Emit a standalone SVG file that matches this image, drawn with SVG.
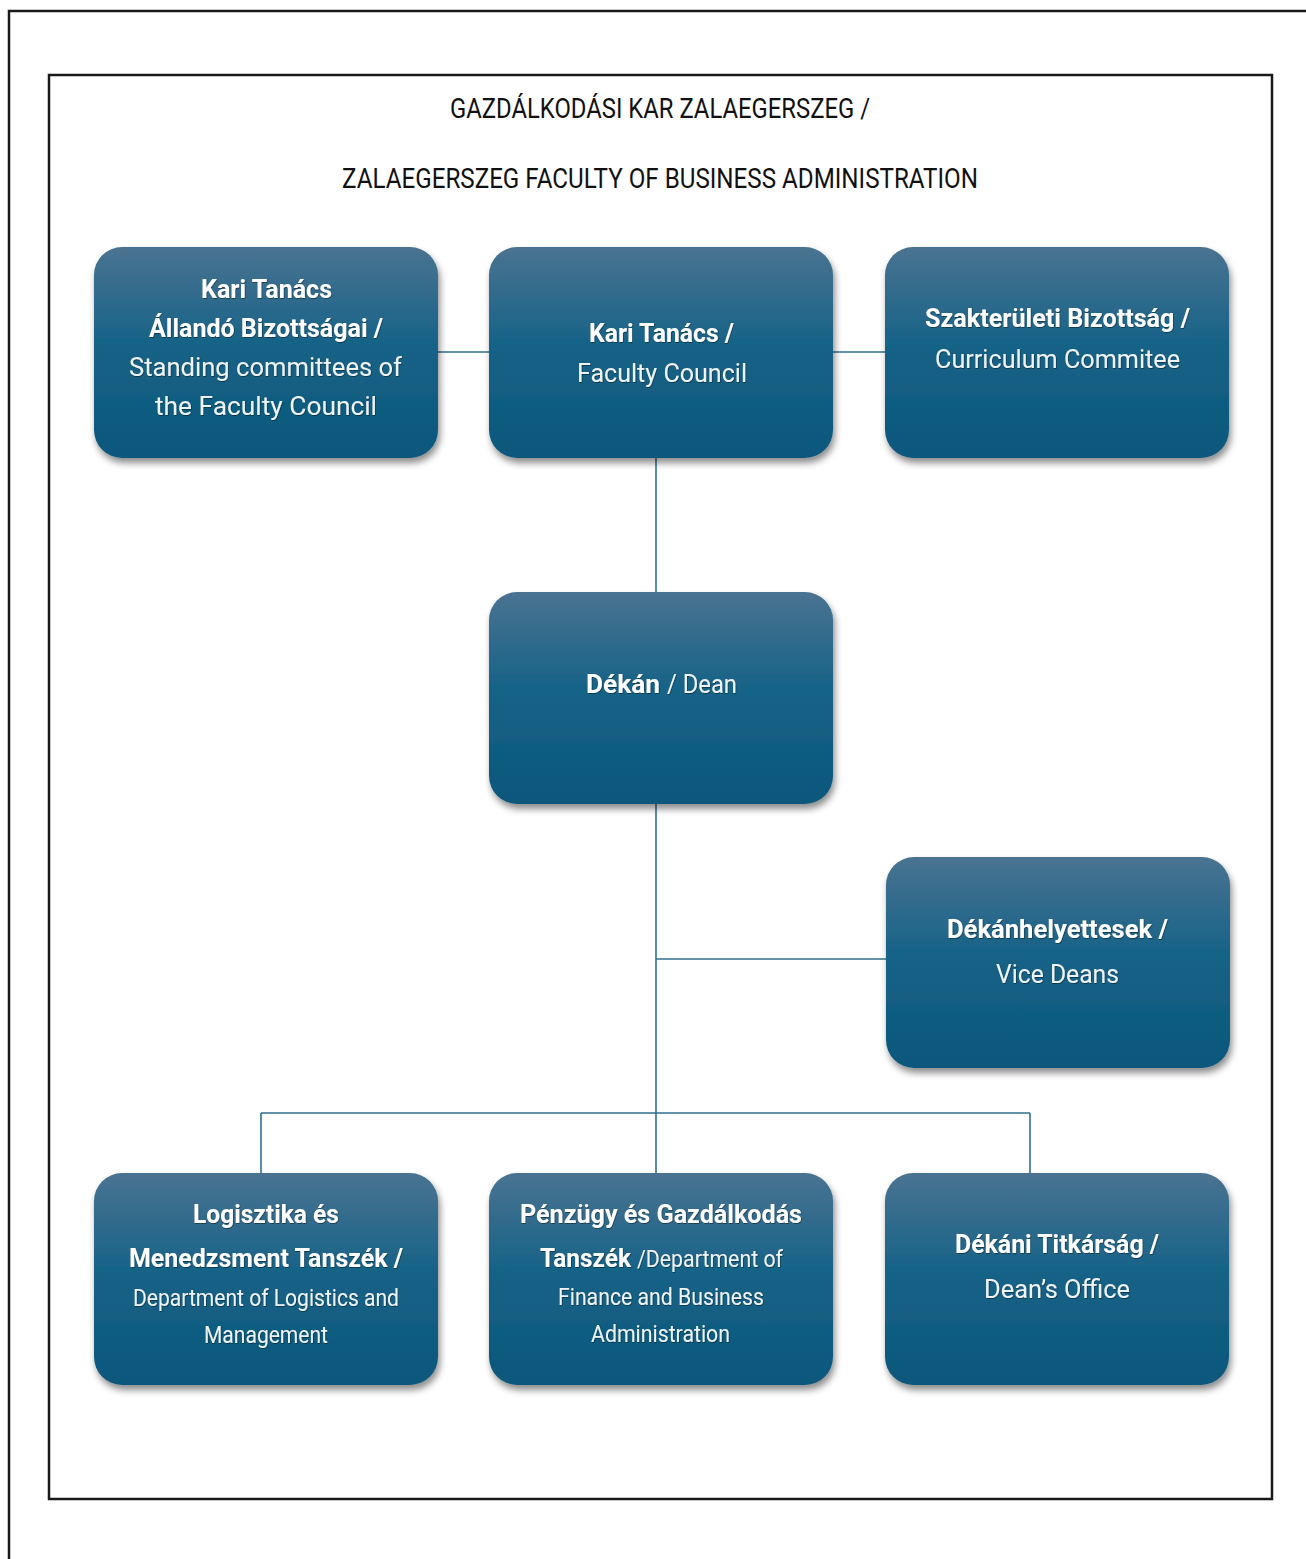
<svg xmlns="http://www.w3.org/2000/svg" width="1306" height="1559" viewBox="0 0 1306 1559">
<defs>
<linearGradient id="g" x1="0" y1="0" x2="0" y2="1">
<stop offset="0" stop-color="#4a7391"/>
<stop offset="0.45" stop-color="#186388"/>
<stop offset="1" stop-color="#0a577b"/>
</linearGradient>
<filter id="sh" x="-10%" y="-10%" width="125%" height="130%">
<feDropShadow dx="2" dy="5" stdDeviation="3.5" flood-color="#000" flood-opacity="0.45"/>
</filter>
<filter id="ts" x="-5%" y="-20%" width="110%" height="150%">
<feDropShadow dx="0.6" dy="0.8" stdDeviation="0.6" flood-color="#000" flood-opacity="0.5"/>
</filter>
</defs>
<style>
.frame{fill:none;stroke:#1a1a1a;stroke-width:2.5}
.box{fill:url(#g);filter:url(#sh)}
.title{font-family:Roboto,"Liberation Sans",sans-serif;font-size:27px;fill:#111}
.t{font-family:Roboto,"Liberation Sans",sans-serif;fill:#fff;filter:url(#ts)}
.b{font-weight:bold;font-size:26px}
.r{font-weight:normal;font-size:26px;fill:#eef3f6}
.s{font-weight:normal;font-size:23px;fill:#eef3f6}
.conn line{stroke:#2f7191;stroke-width:1.6}
</style>
<rect width="1306" height="1559" fill="#fff"/>
<rect class="frame" x="9" y="11" width="1400" height="1600"/>
<rect class="frame" x="49" y="75" width="1223" height="1424"/>
<g id="title">
<text class="title" x="450" y="118" textLength="420" lengthAdjust="spacingAndGlyphs">GAZDÁLKODÁSI KAR ZALAEGERSZEG /</text>
<text class="title" x="342" y="188" textLength="636" lengthAdjust="spacingAndGlyphs">ZALAEGERSZEG FACULTY OF BUSINESS ADMINISTRATION</text>
</g>
<g class="conn" id="connectors">
<line x1="438" y1="352" x2="489" y2="352"/>
<line x1="833" y1="352" x2="885" y2="352"/>
<line x1="656" y1="458" x2="656" y2="592"/>
<line x1="656" y1="804" x2="656" y2="1173"/>
<line x1="656" y1="959" x2="886" y2="959"/>
<line x1="261" y1="1113" x2="1030" y2="1113"/>
<line x1="261" y1="1113" x2="261" y2="1173"/>
<line x1="1030" y1="1113" x2="1030" y2="1173"/>
</g>
<g id="node-standing">
<rect class="box" x="94" y="247" width="344" height="211" rx="28"/>
<text class="t b" x="201" y="298" textLength="131" lengthAdjust="spacingAndGlyphs">Kari Tanács</text>
<text class="t b" x="149" y="337" textLength="234" lengthAdjust="spacingAndGlyphs">Állandó Bizottságai /</text>
<text class="t r" x="129" y="376" textLength="273" lengthAdjust="spacingAndGlyphs">Standing committees of</text>
<text class="t r" x="155" y="415" textLength="222" lengthAdjust="spacingAndGlyphs">the Faculty Council</text>
</g>
<g id="node-council">
<rect class="box" x="489" y="247" width="344" height="211" rx="28"/>
<text class="t b" x="589" y="342" textLength="145" lengthAdjust="spacingAndGlyphs">Kari Tanács /</text>
<text class="t r" x="577" y="382" textLength="170" lengthAdjust="spacingAndGlyphs">Faculty Council</text>
</g>
<g id="node-curriculum">
<rect class="box" x="885" y="247" width="344" height="211" rx="28"/>
<text class="t b" x="925" y="327" textLength="265" lengthAdjust="spacingAndGlyphs">Szakterületi Bizottság /</text>
<text class="t r" x="935" y="368" textLength="245" lengthAdjust="spacingAndGlyphs">Curriculum Commitee</text>
</g>
<g id="node-dean">
<rect class="box" x="489" y="592" width="344" height="212" rx="28"/>
<text class="t b" x="586" y="693" textLength="74" lengthAdjust="spacingAndGlyphs">Dékán</text>
<text class="t r" x="667" y="693" textLength="70" lengthAdjust="spacingAndGlyphs">/ Dean</text>
</g>
<g id="node-vicedeans">
<rect class="box" x="886" y="857" width="344" height="211" rx="28"/>
<text class="t b" x="947" y="938" textLength="221" lengthAdjust="spacingAndGlyphs">Dékánhelyettesek /</text>
<text class="t r" x="996" y="983" textLength="123" lengthAdjust="spacingAndGlyphs">Vice Deans</text>
</g>
<g id="node-logistics">
<rect class="box" x="94" y="1173" width="344" height="212" rx="28"/>
<text class="t b" x="193" y="1223" textLength="146" lengthAdjust="spacingAndGlyphs">Logisztika és</text>
<text class="t b" x="129" y="1267" textLength="274" lengthAdjust="spacingAndGlyphs">Menedzsment Tanszék /</text>
<text class="t s" x="133" y="1306" textLength="266" lengthAdjust="spacingAndGlyphs">Department of Logistics and</text>
<text class="t s" x="204" y="1343" textLength="124" lengthAdjust="spacingAndGlyphs">Management</text>
</g>
<g id="node-finance">
<rect class="box" x="489" y="1173" width="344" height="212" rx="28"/>
<text class="t b" x="520" y="1223" textLength="282" lengthAdjust="spacingAndGlyphs">Pénzügy és Gazdálkodás</text>
<text class="t b" x="540" y="1267" textLength="91" lengthAdjust="spacingAndGlyphs">Tanszék</text>
<text class="t s" x="637" y="1267" textLength="146" lengthAdjust="spacingAndGlyphs">/Department of</text>
<text class="t s" x="558" y="1305" textLength="206" lengthAdjust="spacingAndGlyphs">Finance and Business</text>
<text class="t s" x="591" y="1342" textLength="139" lengthAdjust="spacingAndGlyphs">Administration</text>
</g>
<g id="node-office">
<rect class="box" x="885" y="1173" width="344" height="212" rx="28"/>
<text class="t b" x="955" y="1253" textLength="204" lengthAdjust="spacingAndGlyphs">Dékáni Titkárság /</text>
<text class="t r" x="984" y="1298" textLength="146" lengthAdjust="spacingAndGlyphs">Dean’s Office</text>
</g>
</svg>
